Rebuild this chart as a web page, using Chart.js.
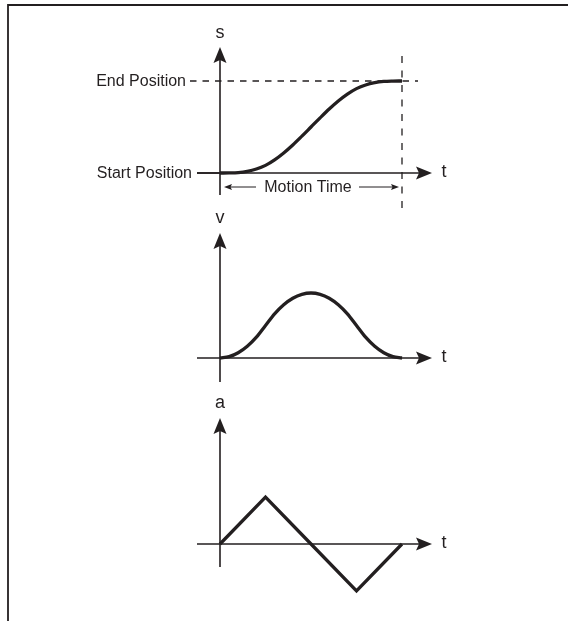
<!DOCTYPE html>
<html>
<head>
<meta charset="utf-8">
<script src="https://cdn.jsdelivr.net/npm/chart.js@4.4.0/dist/chart.umd.min.js"></script>
<style>
  html, body { margin: 0; padding: 0; background: #fff; }
  #wrap { position: relative; width: 568px; height: 621px; }
</style>
</head>
<body>
<div id="wrap"><canvas id="motion"></canvas></div>
<script>
// Motion profile: position, velocity, acceleration over one move (normalised units)

const TIME      = [0, 0.05, 0.1, 0.15, 0.2, 0.25, 0.3, 0.35, 0.4, 0.45, 0.5, 0.55, 0.6, 0.65, 0.7, 0.75, 0.8, 0.85, 0.9, 0.95, 1];
const POSITION  = [0, 0.001, 0.005, 0.018, 0.043, 0.083, 0.143, 0.218, 0.305, 0.401, 0.5, 0.599, 0.695, 0.782, 0.857, 0.917, 0.957, 0.982, 0.995, 0.999, 1];
const VELOCITY  = [0, 0.02, 0.08, 0.18, 0.32, 0.5, 0.68, 0.82, 0.92, 0.98, 1, 0.98, 0.92, 0.82, 0.68, 0.5, 0.32, 0.18, 0.08, 0.02, 0];
const ACCEL_T   = [0, 0.25, 0.5, 0.75, 1];
const ACCEL     = [0, 1, 0, -1, 0];

const INK = '#231f20';
const W = 568, H = 621;

// Panel layout (pixels) — where each value axis sits on the page
const PANELS = [
    { id: 'ys', label: 's', zero: 173, unit: 92, top: 47,  bottom: 195, labelY: 33 },
    { id: 'yv', label: 'v', zero: 358, unit: 65, top: 233, bottom: 382, labelY: 218 },
    { id: 'ya', label: 'a', zero: 544, unit: 47, top: 418, bottom: 567, labelY: 403 }
];
const T0_PX = 220, T1_PX = 402;      // t = 0 and t = 1 on the page
const AXIS_LEFT = 197, AXIS_TIP = 432;

function pts(xs, ys) { return xs.map((x, i) => ({ x: x, y: ys[i] })); }

function yRange(p) { return { min: -(H - p.zero) / p.unit, max: p.zero / p.unit }; }

function arrowUp(ctx, x, y, len, half, notch) {
    ctx.beginPath();
    ctx.moveTo(x, y);
    ctx.lineTo(x - half, y + len);
    ctx.lineTo(x, y + len - notch);
    ctx.lineTo(x + half, y + len);
    ctx.closePath();
    ctx.fill();
}
function arrowSide(ctx, x, y, dir, len, half, notch) {
    ctx.beginPath();
    ctx.moveTo(x, y);
    ctx.lineTo(x - dir * len, y - half);
    ctx.lineTo(x - dir * (len - notch), y);
    ctx.lineTo(x - dir * len, y + half);
    ctx.closePath();
    ctx.fill();
}

// ─── Axes, arrows, labels and dashed guides ─────────────────
const diagramPlugin = {
    id: 'motionDiagram',
    beforeDatasetsDraw(chart) {
        const ctx = chart.ctx;
        const sx = chart.scales.x;
        const x0 = sx.getPixelForValue(0);
        const xEnd = sx.getPixelForValue(TIME[TIME.length - 1]);
        ctx.save();
        ctx.strokeStyle = INK;
        ctx.fillStyle = INK;

        // frame (top + left only)
        ctx.lineWidth = 1.8;
        ctx.beginPath();
        ctx.moveTo(W, 5); ctx.lineTo(8, 5); ctx.lineTo(8, H);
        ctx.stroke();

        PANELS.forEach(p => {
            const y0 = chart.scales[p.id].getPixelForValue(0);
            ctx.lineWidth = 1.6;
            ctx.setLineDash([]);
            ctx.beginPath();
            ctx.moveTo(AXIS_LEFT, y0); ctx.lineTo(AXIS_TIP - 10, y0);
            ctx.moveTo(x0, p.bottom);  ctx.lineTo(x0, p.top + 10);
            ctx.stroke();
            arrowSide(ctx, AXIS_TIP, y0, 1, 16, 6.5, 3);
            arrowUp(ctx, x0, p.top, 16, 6.5, 3);

            ctx.font = '18px "Liberation Sans", Arial, sans-serif';
            ctx.textAlign = 'center';
            ctx.textBaseline = 'middle';
            ctx.fillText(p.label, x0, p.labelY);
            ctx.fillText('t', 444, y0 - 1);
        });

        // position panel guides
        const ys = chart.scales.ys;
        const yStart = ys.getPixelForValue(POSITION[0]);
        const yEnd = ys.getPixelForValue(POSITION[POSITION.length - 1]);

        ctx.lineWidth = 1.3;
        ctx.setLineDash([6.5, 6]);
        ctx.beginPath();
        ctx.moveTo(190, yEnd); ctx.lineTo(418, yEnd);
        ctx.stroke();
        ctx.setLineDash([7, 7.5]);
        ctx.beginPath();
        ctx.moveTo(xEnd, 56); ctx.lineTo(xEnd, 208);
        ctx.stroke();
        ctx.setLineDash([]);

        // start position lead-in
        ctx.lineWidth = 1.6;
        ctx.beginPath();
        ctx.moveTo(AXIS_LEFT, yStart); ctx.lineTo(x0, yStart);
        ctx.stroke();

        ctx.font = '16px "Liberation Sans", Arial, sans-serif';
        ctx.textAlign = 'right';
        ctx.textBaseline = 'middle';
        ctx.fillText('End Position', 186, yEnd + 1);
        ctx.fillText('Start Position', 192, yStart + 1);

        // motion time span
        const ym = 187;
        ctx.textAlign = 'center';
        ctx.fillText('Motion Time', (x0 + xEnd) / 2 - 3, ym + 1);
        ctx.lineWidth = 1;
        ctx.beginPath();
        ctx.moveTo(x0 + 10, ym); ctx.lineTo(256, ym);
        ctx.moveTo(359, ym);     ctx.lineTo(xEnd - 9, ym);
        ctx.stroke();
        arrowSide(ctx, x0 + 4, ym, -1, 8, 3, 1.5);
        arrowSide(ctx, xEnd - 3, ym, 1, 8, 3, 1.5);

        ctx.restore();
    }
};

const lineStyle = {
    borderColor: INK,
    borderWidth: 3.3,
    pointRadius: 0,
    fill: false,
    borderJoinStyle: 'miter',
    borderCapStyle: 'butt'
};

const xSpan = T1_PX - T0_PX;
new Chart(document.getElementById('motion'), {
    type: 'line',
    data: {
        datasets: [
            { ...lineStyle, data: pts(TIME, POSITION), yAxisID: 'ys', cubicInterpolationMode: 'monotone' },
            { ...lineStyle, data: pts(TIME, VELOCITY), yAxisID: 'yv', cubicInterpolationMode: 'monotone' },
            { ...lineStyle, data: pts(ACCEL_T, ACCEL), yAxisID: 'ya', tension: 0 }
        ]
    },
    options: {
        responsive: true,
        maintainAspectRatio: false,
        animation: false,
        layout: { padding: 0 },
        plugins: { legend: { display: false }, tooltip: { enabled: false } },
        scales: {
            x:  { type: 'linear', display: false, min: -T0_PX / xSpan, max: (W - T0_PX) / xSpan },
            ys: { type: 'linear', display: false, ...yRange(PANELS[0]) },
            yv: { type: 'linear', display: false, ...yRange(PANELS[1]) },
            ya: { type: 'linear', display: false, ...yRange(PANELS[2]) }
        }
    },
    plugins: [diagramPlugin]
});
</script>
</body>
</html>
